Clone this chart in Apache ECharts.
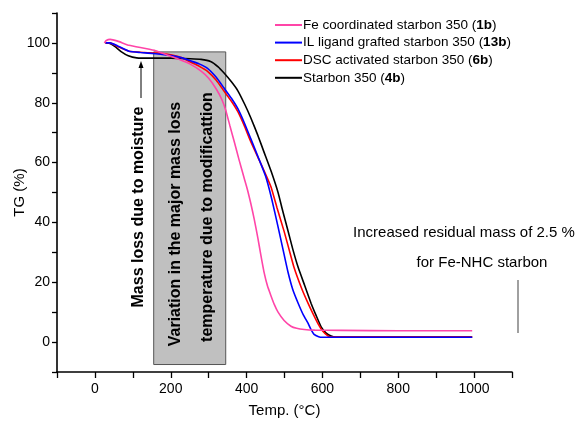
<!DOCTYPE html>
<html>
<head>
<meta charset="utf-8">
<script src="https://cdn.jsdelivr.net/npm/echarts@6/dist/echarts.min.js"></script>
<style>
html,body{margin:0;padding:0;background:#fff;}
#chart{width:578px;height:421px;}
</style>
</head>
<body>
<div id="chart"></div>
<script>
// ---- Data (Temperature °C, TG %) ----
var seriesNames = ['Fe coordinated starbon 350', 'IL ligand grafted starbon 350', 'DSC activated starbon 350', 'Starbon 350'];
var seriesCodes = ['1b', '13b', '6b', '4b'];
var seriesColors = ['#ff45a8', '#0000ff', '#ff0000', '#000000'];

var fe1b = [[25,100],[30,100.8],[40,101.2],[60,100.6],[90,99.2],[130,98.2],[160,97.4],[190,96],[220,94.6],[250,93],[280,90.6],[300,88.2],[320,84.6],[335,81],[345,77.5],[356,72.3],[367,67.2],[380,61],[395,54.2],[403,50.6],[411,46.4],[420,41.2],[430,34.6],[438,28.8],[446,23.4],[455,18.8],[464,15.6],[473,12.6],[483,10],[499,7.2],[517,5.3],[532,4.6],[552,4.2],[580,4],[650,3.9],[800,3.8],[995,3.8]];
var il13b = [[28,100],[40,100],[60,99],[90,97.2],[120,96.8],[160,96.4],[200,95.8],[230,95],[252,94],[275,93],[297,91.5],[320,88.5],[340,85],[360,81.5],[377,78],[395,73],[411,68],[430,62],[450,55.5],[466,48],[483,38.5],[496,31],[509,23.5],[522,17.5],[536,13],[550,9],[562,6.3],[570,4.2],[578,2.6],[590,1.8],[600,1.6],[800,1.6],[995,1.6]];
var dsc6b = [[28,100],[40,100],[60,98.8],[90,97.2],[130,96.8],[170,96.6],[200,96],[230,95],[252,93.6],[275,92.2],[297,90.5],[320,87.5],[340,84],[360,80.5],[377,77],[395,72],[411,67],[440,59],[464,52],[480,45],[499,37],[512,31],[525,25],[545,18],[562,13],[575,9.5],[589,6],[600,3.8],[615,2],[625,1.7],[800,1.7],[995,1.7]];
var starbon4b = [[28,100],[40,99.8],[55,98.6],[70,97],[88,95.7],[110,95],[150,94.9],[200,94.9],[252,94.7],[280,94.5],[305,93.8],[325,92],[340,90],[360,87],[377,84],[395,79.5],[411,75],[430,69],[446,63.5],[465,57],[483,50],[495,44],[509,37.3],[522,31],[536,25],[553,19],[570,13],[583,9],[597,5],[610,3],[623,2],[635,1.7],[800,1.7],[995,1.7]];
var allSeries = [fe1b, il13b, dsc6b, starbon4b];

// Shaded region (Temp range, TG range)
var regionT = [155, 345];
var regionTG = [-7.5, 97];

// Axis tick labels
var xTickLabels = [0, 200, 400, 600, 800, 1000];
var yTickLabels = [0, 20, 40, 60, 80, 100];

var FONT = 'Arial, "Liberation Sans", sans-serif';

var chart = echarts.init(document.getElementById('chart'), null, {renderer: 'canvas'});

var series = allSeries.map(function (d, i) {
  return {
    name: seriesNames[i],
    type: 'line',
    data: d,
    symbol: 'none',
    smooth: 0.15,
    lineStyle: {color: seriesColors[i], width: 1.6},
    itemStyle: {color: seriesColors[i]},
    z: 5 - i
  };
});
series.push({
  name: 'region',
  type: 'line',
  data: [],
  silent: true,
  z: 1,
  markArea: {
    silent: true,
    itemStyle: {color: '#c0c0c0', borderColor: '#555555', borderWidth: 1},
    data: [[{coord: [regionT[0], regionTG[1]]}, {coord: [regionT[1], regionTG[0]]}]]
  }
});

var option = {
  animation: false,
  backgroundColor: '#ffffff',
  grid: {left: 57, right: 66, top: 13, bottom: 49, containLabel: false, outerBoundsMode: 'none'},
  legend: {
    orient: 'vertical',
    left: 270,
    top: 13,
    itemWidth: 27,
    itemHeight: 14,
    itemGap: 3.6,
    data: seriesNames,
    icon: 'path://M0,6 L27,6 L27,8 L0,8 Z',
    formatter: function (name) {
      var i = seriesNames.indexOf(name);
      return name + ' ({b|' + seriesCodes[i] + '})';
    },
    textStyle: {
      fontFamily: FONT, fontSize: 13.5, color: '#000', padding: [0, 0, 0, -4],
      rich: {b: {fontFamily: FONT, fontSize: 13.5, fontWeight: 'bold', color: '#000'}}
    }
  },
  xAxis: {
    type: 'value',
    min: -100, max: 1100, interval: 100,
    name: 'Temp. (\u00B0C)',
    nameLocation: 'middle',
    nameGap: 31,
    nameMoveOverlap: false,
    nameTextStyle: {fontFamily: FONT, fontSize: 15, color: '#000'},
    axisLine: {show: true, onZero: false, lineStyle: {color: '#000', width: 1.6}},
    axisTick: {show: true, inside: false, length: 6, lineStyle: {color: '#000', width: 1.3}},
    axisLabel: {
      fontFamily: FONT, fontSize: 14, color: '#000', margin: 10,
      formatter: function (v) { return xTickLabels.indexOf(v) >= 0 ? String(v) : ''; }
    },
    splitLine: {show: false}
  },
  yAxis: {
    type: 'value',
    min: -10, max: 110, interval: 10,
    name: 'TG (%)',
    nameLocation: 'middle',
    nameGap: 30,
    nameRotate: 90,
    nameMoveOverlap: false,
    nameTextStyle: {fontFamily: FONT, fontSize: 15, color: '#000'},
    axisLine: {show: true, onZero: false, lineStyle: {color: '#000', width: 1.6}},
    axisTick: {show: true, inside: false, length: 5, lineStyle: {color: '#000', width: 1.3}},
    axisLabel: {
      fontFamily: FONT, fontSize: 14, color: '#000', margin: 7,
      formatter: function (v) { return yTickLabels.indexOf(v) >= 0 ? String(v) : ''; }
    },
    splitLine: {show: false}
  },
  series: series,
  graphic: [
    {type: 'text', x: 139, y: 207, rotation: Math.PI / 2, z: 10,
      style: {text: 'Mass loss due to moisture', font: 'bold 16px ' + FONT, fill: '#000', align: 'center', verticalAlign: 'middle'}},
    {type: 'text', x: 176, y: 224, rotation: Math.PI / 2, z: 10,
      style: {text: 'Variation in the major mass loss', font: 'bold 16px ' + FONT, fill: '#000', align: 'center', verticalAlign: 'middle'}},
    {type: 'text', x: 208, y: 217, rotation: Math.PI / 2, z: 10,
      style: {text: 'temperature due to modificattion', font: 'bold 16px ' + FONT, fill: '#000', align: 'center', verticalAlign: 'middle'}},
    {type: 'line', z: 10, shape: {x1: 141, y1: 98, x2: 141, y2: 66}, style: {stroke: '#000', lineWidth: 1}},
    {type: 'polygon', z: 10, shape: {points: [[141, 61], [138.5, 68], [143.5, 68]]}, style: {fill: '#000'}},
    {type: 'text', x: 464, y: 233, z: 10,
      style: {text: 'Increased residual mass of 2.5 %', font: '15px ' + FONT, fill: '#000', align: 'center', verticalAlign: 'middle'}},
    {type: 'text', x: 482, y: 263, z: 10,
      style: {text: 'for Fe-NHC starbon', font: '15px ' + FONT, fill: '#000', align: 'center', verticalAlign: 'middle'}},
    {type: 'line', z: 10, shape: {x1: 518, y1: 280, x2: 518, y2: 333}, style: {stroke: '#808080', lineWidth: 1.5}}
  ]
};
chart.setOption(option);
</script>
</body>
</html>
